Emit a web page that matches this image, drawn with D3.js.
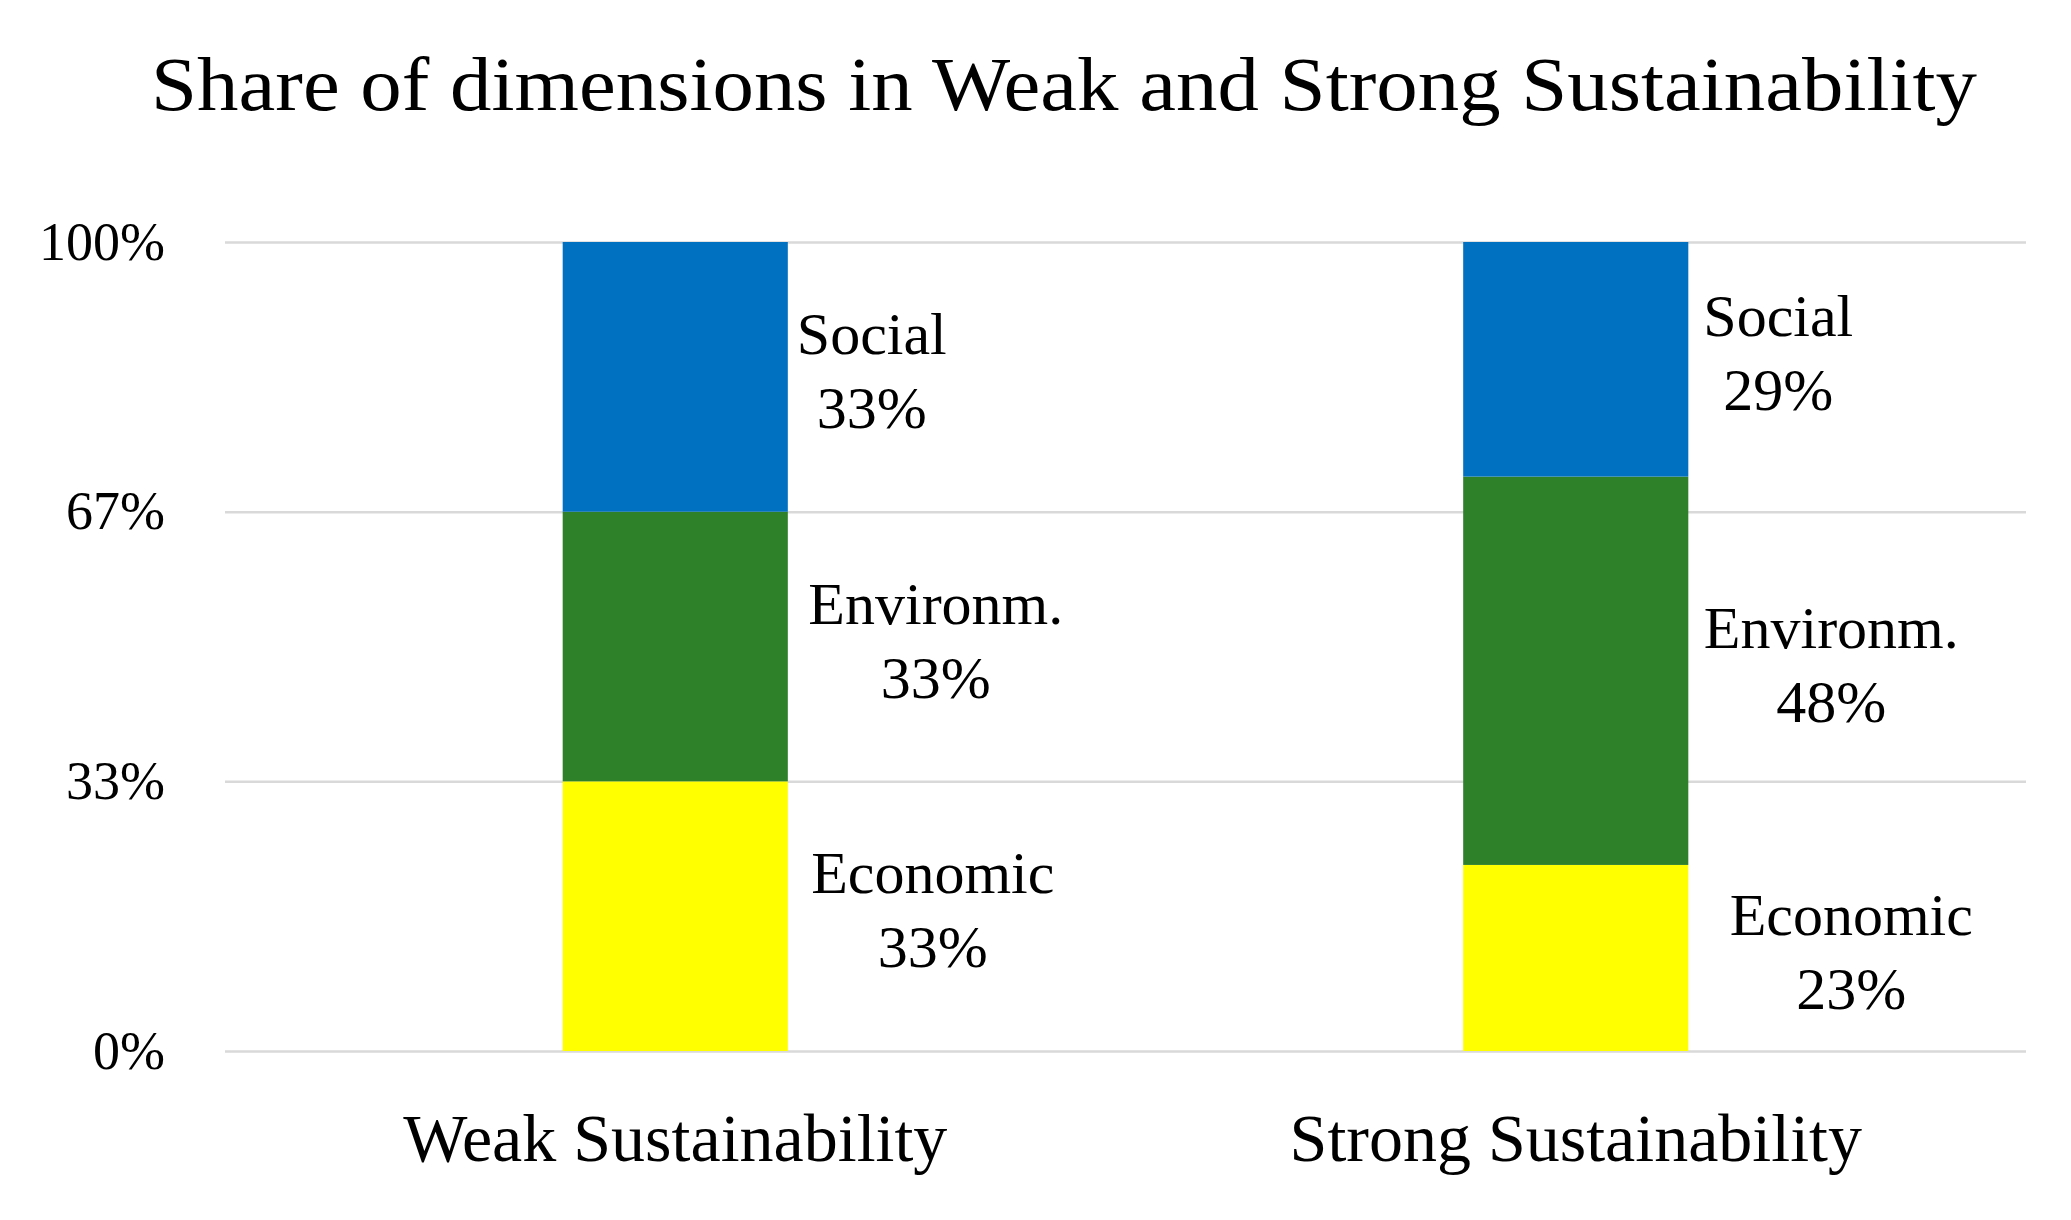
<!DOCTYPE html>
<html>
<head>
<meta charset="utf-8">
<script src="https://cdn.jsdelivr.net/npm/d3@7"></script>
<style>
  body { margin: 0; background: #fff; }
  text { font-family: "Liberation Serif", "DejaVu Serif", serif; fill: #000; }
</style>
</head>
<body>
<div id="chart"></div>
<script>
// data
const categories = ["Weak Sustainability", "Strong Sustainability"];
const dimensions = ["Economic", "Environm.", "Social"];
const economic = [33.33, 23];
const environm = [33.33, 48];
const social = [33.34, 29];
const yTickValues = [0, 33.33, 66.67, 100];
const yTickLabels = ["0%", "33%", "67%", "100%"];
const colors = ["#FFFF00", "#2E8129", "#0070C0"];

// label nudges (px right of bar edge), per category then dimension
const labelDx = [[145, 148, 84], [163, 143, 90]];

const W = 2071, H = 1220;
const margin = {top: 242, right: 45, bottom: 169, left: 225};
const width = W - margin.left - margin.right;
const height = H - margin.top - margin.bottom;

const svg = d3.select("#chart")
    .append("svg")
    .attr("width", W)
    .attr("height", H);

// title
svg.append("text")
    .attr("x", 1064)
    .attr("y", 110)
    .attr("text-anchor", "middle")
    .attr("font-size", 76)
    .attr("textLength", 1826)
    .attr("lengthAdjust", "spacingAndGlyphs")
    .text("Share of dimensions in Weak and Strong Sustainability");

const g = svg.append("g")
    .attr("transform", "translate(" + margin.left + "," + margin.top + ")");

const x = d3.scaleBand().domain(categories).range([0, width]).padding(0);
const y = d3.scaleLinear().domain([0, 100]).range([height, 0]);
const color = d3.scaleOrdinal().domain(dimensions).range(colors);

// grid + y labels
const yAxis = d3.axisLeft(y)
    .tickValues(yTickValues)
    .tickFormat((d, i) => yTickLabels[i])
    .tickSizeInner(-width)
    .tickSizeOuter(0)
    .tickPadding(60);

g.append("g")
    .attr("class", "y-axis")
    .call(yAxis)
    .call(a => a.select(".domain").remove())
    .call(a => a.selectAll("line").attr("stroke", "#d9d9d9").attr("stroke-width", 2.5))
    .call(a => a.selectAll("text").attr("font-size", 54).attr("font-family", "Liberation Serif").attr("fill", "#000"));

// stack
const table = categories.map((c, i) => ({
    category: c,
    "Economic": economic[i],
    "Environm.": environm[i],
    "Social": social[i]
}));
const series = d3.stack().keys(dimensions)(table);

const barW = x.bandwidth() * 0.25;

const layers = g.selectAll(".layer")
    .data(series)
    .join("g")
    .attr("class", "layer")
    .attr("fill", d => color(d.key));

layers.selectAll("rect")
    .data(d => d)
    .join("rect")
    .attr("x", d => x(d.data.category) + (x.bandwidth() - barW) / 2)
    .attr("y", d => y(d[1]))
    .attr("width", barW)
    .attr("height", d => y(d[0]) - y(d[1]));

// data labels
series.forEach((s, si) => {
    s.forEach((d, ci) => {
        const cx = x(d.data.category) + (x.bandwidth() + barW) / 2 + labelDx[ci][si];
        const cy = (y(d[0]) + y(d[1])) / 2;
        const t = g.append("text")
            .attr("text-anchor", "middle")
            .attr("font-size", 60)
            .attr("dominant-baseline", "middle");
        t.append("tspan").attr("x", cx).attr("y", cy - 37).text(s.key);
        t.append("tspan").attr("x", cx).attr("y", cy + 37)
            .text(Math.round(d[1] - d[0]) + "%");
    });
});

// x axis labels
const xAxis = d3.axisBottom(x).tickSize(0).tickPadding(62);
g.append("g")
    .attr("class", "x-axis")
    .attr("transform", "translate(0," + height + ")")
    .call(xAxis)
    .call(a => a.select(".domain").remove())
    .call(a => a.selectAll("text").attr("font-size", 68).attr("font-family", "Liberation Serif").attr("fill", "#000"));
</script>
</body>
</html>
